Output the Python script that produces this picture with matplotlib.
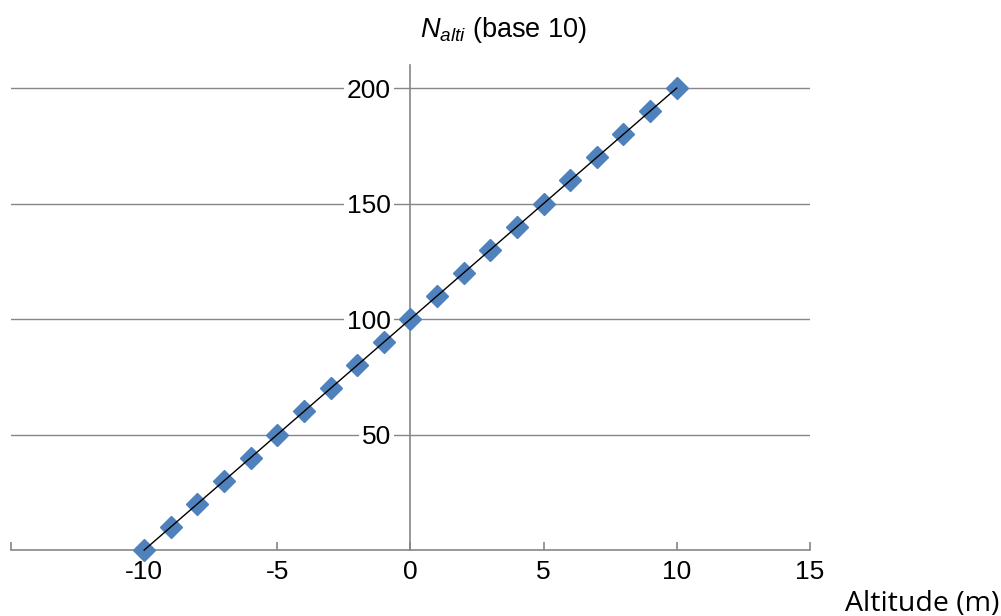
import matplotlib
matplotlib.use('Agg')
import matplotlib.pyplot as plt

altitude = [-10, -9, -8, -7, -6, -5, -4, -3, -2, -1, 0, 1, 2, 3, 4, 5, 6, 7, 8, 9, 10]
n_alti = [0, 10, 20, 30, 40, 50, 60, 70, 80, 90, 100, 110, 120, 130, 140, 150, 160, 170, 180, 190, 200]
x_ticks = [-15, -10, -5, 0, 5, 10, 15]
x_labels = ['', '-10', '-5', '0', '5', '10', '15']
y_ticks = [50, 100, 150, 200]

plt.rcParams['font.family'] = ['Liberation Sans', 'DejaVu Sans']
plt.rcParams['mathtext.fontset'] = 'custom'
plt.rcParams['mathtext.rm'] = 'Liberation Sans'
plt.rcParams['mathtext.it'] = 'Liberation Sans:italic'

grey = '#868686'
fig = plt.figure(figsize=(10.01, 6.16), dpi=100)
ax = fig.add_axes([0.011, 0.107, 0.798, 0.7875])

ax.plot(altitude, n_alti, linestyle='none', marker='D', markersize=11,
        color='#4F81BD', zorder=3, clip_on=False)
ax.plot(altitude, n_alti, color='black', linewidth=1, zorder=4, clip_on=False)

ax.set_xlim(-15, 15)
ax.set_ylim(0, 210)
ax.set_xticks(x_ticks)
ax.set_xticklabels(x_labels)
ax.set_yticks(y_ticks)
ax.set_yticklabels([str(v) for v in y_ticks])

ax.spines['left'].set_position(('data', 0))
ax.spines['right'].set_visible(False)
ax.spines['top'].set_visible(False)
for s in ['left', 'bottom']:
    ax.spines[s].set_color(grey)
    ax.spines[s].set_linewidth(1.2)

ax.grid(axis='y', color=grey, linewidth=1)
ax.tick_params(axis='x', direction='in', length=6, color=grey, width=1.2,
               labelsize=19, pad=7)
ax.tick_params(axis='y', length=0, labelsize=19, pad=14)
for lbl in ax.get_yticklabels():
    lbl.set_bbox(dict(facecolor='white', edgecolor='none', pad=2))

fig.text(0.503, 0.951, r'$N_{alti}$ (base 10)', ha='center', va='center', fontsize=19.5)
fig.text(0.998, 0.02, 'Altitude (m)', ha='right', va='center', fontsize=20.5,
         family=['Open Sans', 'DejaVu Sans'])

fig.savefig('out.png', dpi=100)
